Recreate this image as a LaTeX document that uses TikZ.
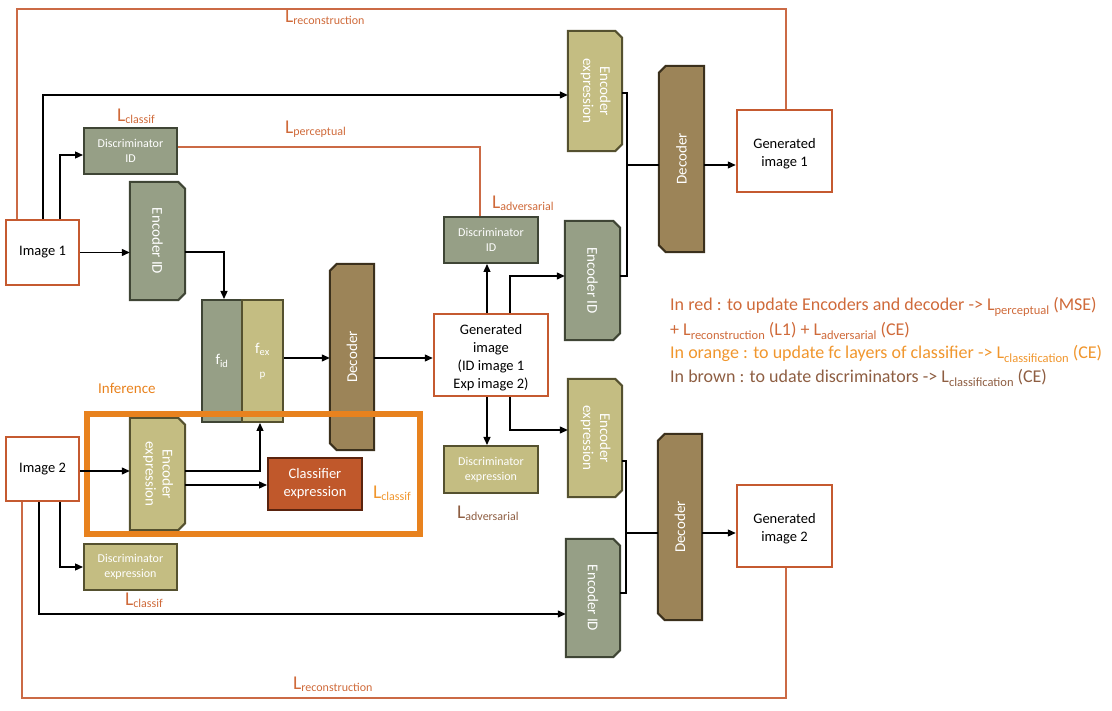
\documentclass[tikz,border=0pt]{standalone}
\usepackage{fontspec}
\setmainfont{Carlito}
\usetikzlibrary{arrows.meta,backgrounds}
\definecolor{imgred}{HTML}{C55A30}
\definecolor{gfill}{HTML}{969F86}
\definecolor{gdraw}{HTML}{3F4535}
\definecolor{kfill}{HTML}{C4BD82}
\definecolor{kdraw}{HTML}{55512F}
\definecolor{bfill}{HTML}{9C8458}
\definecolor{bdraw}{HTML}{3B301C}
\definecolor{cfill}{HTML}{C0582B}
\definecolor{cdraw}{HTML}{5A230E}
\definecolor{infor}{HTML}{E8821E}
\definecolor{lred}{HTML}{CF6A3A}
\definecolor{lorange}{HTML}{F0962D}
\definecolor{lbrown}{HTML}{8E5E42}
\definecolor{lossline}{HTML}{CB6A45}
\newcommand\Lab[1]{{\fontsize{19.5}{20}\selectfont L}\raisebox{-2pt}{\fontsize{12}{13}\selectfont #1}}
\newcommand\Lt[1]{L\raisebox{-3.5pt}{\fontsize{12.5}{13}\selectfont #1}}
\newcommand\mkenc[3]{\begin{scope}[on background layer]\filldraw[fill=#2,draw=#3,line width=2pt] (#1.north west) -- ([xshift=-7pt]#1.north east) -- ([yshift=-7pt]#1.north east) -- ([yshift=7pt]#1.south east) -- ([xshift=-7pt]#1.south east) -- (#1.south west) -- cycle;\end{scope}}
\newcommand\mkdec[3]{\begin{scope}[on background layer]\filldraw[fill=#2,draw=#3,line width=2pt] ([xshift=7pt]#1.north west) -- (#1.north east) -- (#1.south east) -- ([xshift=7pt]#1.south west) -- ([yshift=7pt]#1.south west) -- ([yshift=-7pt]#1.north west) -- cycle;\end{scope}}
\newcommand\twol[2]{\begin{tabular}{@{}c@{}}#1\\#2\end{tabular}}
\newcommand\lowtab[1]{\raisebox{-3pt}[\height][\depth]{\begin{tabular}{@{}c@{}}#1\end{tabular}}}
\begin{document}
\begin{tikzpicture}[x=1pt,y=-1pt,
  imgbox/.style={draw=imgred, line width=2.5pt, fill=white, inner sep=0pt, align=center, font=\fontsize{14.5}{18}\selectfont},
  rbox/.style={draw, line width=2pt, inner sep=0pt, text=white, align=center, font=\fontsize{12}{15}\selectfont},
  shp/.style={inner sep=0pt, text=white, align=center, font=\fontsize{15}{17}\selectfont},
  arr/.style={-{Triangle[length=8pt,width=7pt]}, line width=1.3pt},
  ln/.style={line width=1.3pt},
  lossl/.style={draw=lossline, line width=1.3pt},
  lab/.style={anchor=base west, inner sep=0pt, text=lred},
  txt/.style={anchor=base west, inner sep=0pt, font=\fontsize{18}{20}\selectfont}]
\useasboundingbox (0,0) rectangle (1112,711);

% image boxes
\node[imgbox, minimum width=73pt, minimum height=65pt] (img1) at (42.5,252.5) {Image 1};
\node[imgbox, minimum width=73pt, minimum height=64pt] (img2) at (42.5,469) {Image 2};
\node[imgbox, minimum width=114pt, minimum height=82pt] (gen) at (491,355) {\lowtab{Generated\\image\\(ID image 1\\Exp image 2)}};
\node[imgbox, minimum width=95pt, minimum height=82pt] (gen1) at (784.5,151) {\lowtab{Generated\\image 1}};
\node[imgbox, minimum width=95pt, minimum height=82pt] (gen2) at (784.5,526) {\lowtab{Generated\\image 2}};

% discriminators
\node[rbox, fill=gfill, draw=gdraw, minimum width=93pt, minimum height=46pt] (discid1) at (130.5,151) {Discriminator\\ID};
\node[rbox, fill=gfill, draw=gdraw, minimum width=94pt, minimum height=46pt] (discid2) at (491,240) {Discriminator\\ID};
\node[rbox, fill=kfill, draw=kdraw, minimum width=94pt, minimum height=47pt] (discexp2) at (491,469.5) {Discriminator\\expression};
\node[rbox, fill=kfill, draw=kdraw, minimum width=93pt, minimum height=46pt] (discexp1) at (130.5,567) {Discriminator\\expression};

% f boxes
\node[rbox, fill=gfill, draw=gdraw, minimum width=40pt, minimum height=122pt, font=\fontsize{15}{17}\selectfont] (fid) at (222,361) {f\textsubscript{id}};
\node[rbox, fill=kfill, draw=kdraw, minimum width=41pt, minimum height=122pt, font=\fontsize{15}{19}\selectfont] (fexp) at (262.5,361) {f\textsubscript{ex}\\[5pt]{\fontsize{11}{13}\selectfont p}};

% classifier
\node[rbox, fill=cfill, draw=cdraw, minimum width=94pt, minimum height=52pt, font=\fontsize{14.5}{18}\selectfont] (classif) at (315,484) {Classifier\\expression};

% encoders
\node[shp, minimum width=55pt, minimum height=118pt] (encid1) at (157.5,241) {\rotatebox{-90}{Encoder ID}};
\mkenc{encid1}{gfill}{gdraw}
\node[shp, minimum width=55pt, minimum height=112pt] (encexp1) at (157.5,474) {\rotatebox{-90}{\twol{Encoder}{expression}}};
\mkenc{encexp1}{kfill}{kdraw}
\node[shp, minimum width=54pt, minimum height=120pt] (encexp2) at (595,91) {\rotatebox{-90}{\twol{Encoder}{expression}}};
\mkenc{encexp2}{kfill}{kdraw}
\node[shp, minimum width=55pt, minimum height=119pt] (encid2) at (592.5,280.5) {\rotatebox{-90}{Encoder ID}};
\mkenc{encid2}{gfill}{gdraw}
\node[shp, minimum width=54pt, minimum height=118pt] (encexp3) at (595,438) {\rotatebox{-90}{\twol{Encoder}{expression}}};
\mkenc{encexp3}{kfill}{kdraw}
\node[shp, minimum width=54pt, minimum height=118pt] (encid3) at (593,598) {\rotatebox{-90}{Encoder ID}};
\mkenc{encid3}{gfill}{gdraw}

% decoders
\node[shp, minimum width=44pt, minimum height=186pt] (dec1) at (352,357) {\rotatebox{90}{Decoder}};
\mkdec{dec1}{bfill}{bdraw}
\node[shp, minimum width=45pt, minimum height=186pt] (dec2) at (681.5,159) {\rotatebox{90}{Decoder}};
\mkdec{dec2}{bfill}{bdraw}
\node[shp, minimum width=44pt, minimum height=186pt] (dec3) at (680,527) {\rotatebox{90}{Decoder}};
\mkdec{dec3}{bfill}{bdraw}

% inference box
\node[draw=infor, line width=6.5pt, minimum width=333pt, minimum height=120pt, inner sep=0pt] (inf) at (253.5,474) {};

% connectors image 1
\draw[arr] (img1.east) -- (img1.east -| encid1.west);
\coordinate (c1) at (43,95);
\draw[arr] (img1.north -| c1) -- (c1) -- (c1 -| encexp2.west);
\coordinate (c2) at (60,155);
\draw[arr] (img1.north -| c2) -- (c2) -- (c2 -| discid1.west);
\coordinate (c3) at (224,252);
\draw[arr] (c3 -| encid1.east) -- (c3) -- (c3 |- fid.north);
\coordinate (c4) at (300,358);
\draw[arr] (c4 -| fexp.east) -- (c4 -| dec1.west);
\draw[arr] (c4 -| dec1.east) -- (c4 -| gen.west);
% generated image
\coordinate (c5) at (487,300);
\draw[arr] (c5 |- gen.north) -- (c5 |- discid2.south);
\draw[arr] (c5 |- gen.south) -- (c5 |- discexp2.north);
\coordinate (c6) at (510,276);
\draw[arr] (c6 |- gen.north) -- (c6) -- (c6 -| encid2.west);
\coordinate (c7) at (510,430);
\draw[arr] (c7 |- gen.south) -- (c7) -- (c7 -| encexp3.west);
% bracket 1
\coordinate (j1a) at (627,93);
\coordinate (j1b) at (627,276);
\coordinate (j1) at (627,165);
\draw[ln] (j1a -| encexp2.east) -- (j1a) -- (j1b) -- (j1b -| encid2.east);
\draw[ln] (j1) -- (j1 -| dec2.west);
\draw[arr] (j1 -| dec2.east) -- (j1 -| gen1.west);
% bracket 2
\coordinate (j2a) at (626,461);
\coordinate (j2b) at (626,593);
\coordinate (j2) at (626,533);
\draw[ln] (j2a -| encexp3.east) -- (j2a) -- (j2b) -- (j2b -| encid3.east);
\draw[ln] (j2) -- (j2 -| dec3.west);
\draw[arr] (j2 -| dec3.east) -- (j2 -| gen2.west);
% image 2
\coordinate (c8) at (100,471);
\draw[arr] (c8 -| img2.east) -- (c8 -| encexp1.west);
\coordinate (c9) at (260,471);
\draw[arr] (c9 -| encexp1.east) -- (c9) -- (c9 |- fexp.south);
\coordinate (c10) at (220,485);
\draw[arr] (c10 -| encexp1.east) -- (c10 -| classif.west);
\coordinate (c11) at (60,567);
\draw[arr] (c11 |- img2.south) -- (c11) -- (c11 -| discexp1.west);
\coordinate (c12) at (39,614);
\draw[arr] (c12 |- img2.south) -- (c12) -- (c12 -| encid3.west);

% loss lines
\coordinate (r1) at (17,9);
\coordinate (r2) at (786,9);
\draw[lossl] (r1 |- img1.north) -- (r1) -- (r2) -- (r2 |- gen1.north);
\coordinate (r3) at (22,698);
\coordinate (r4) at (786,698);
\draw[lossl] (r3 |- img2.south) -- (r3) -- (r4) -- (r4 |- gen2.south);
\coordinate (p1) at (480,147);
\draw[lossl] (p1 -| discid1.east) -- (p1) -- (p1 |- discid2.north);

% loss labels
\node[lab] (lrec1) at (285,23) {\Lab{reconstruction}};
\node[lab] (lcl1) at (117,122) {\Lab{classif}};
\node[lab] (lper) at (285,134) {\Lab{perceptual}};
\node[lab] (ladv1) at (492,209) {\Lab{adversarial}};
\node[lab, text=infor, font=\fontsize{15}{17}\selectfont] (infl) at (98,394) {Inference};
\node[lab, text=lorange] (lcl2) at (373,498) {\Lab{classif}};
\node[lab] (lcl3) at (125,605) {\Lab{classif}};
\node[lab, text=lbrown] (ladv2) at (457,518) {\Lab{adversarial}};
\node[lab] (lrec2) at (293,689) {\Lab{reconstruction}};

% legend
\node[txt, text=lred] (t1) at (670,311) {In red : to update Encoders and decoder -> \Lt{perceptual} (MSE)};
\node[txt, text=lred] (t2) at (670,336) {+ \Lt{reconstruction} (L1) + \Lt{adversarial} (CE)};
\node[txt, text=lorange] (t3) at (670,359) {In orange : to update fc layers of classifier -> \Lt{classification} (CE)};
\node[txt, text=lbrown] (t4) at (670,383) {In brown : to udate discriminators -> \Lt{classification} (CE)};
\end{tikzpicture}
\end{document}
